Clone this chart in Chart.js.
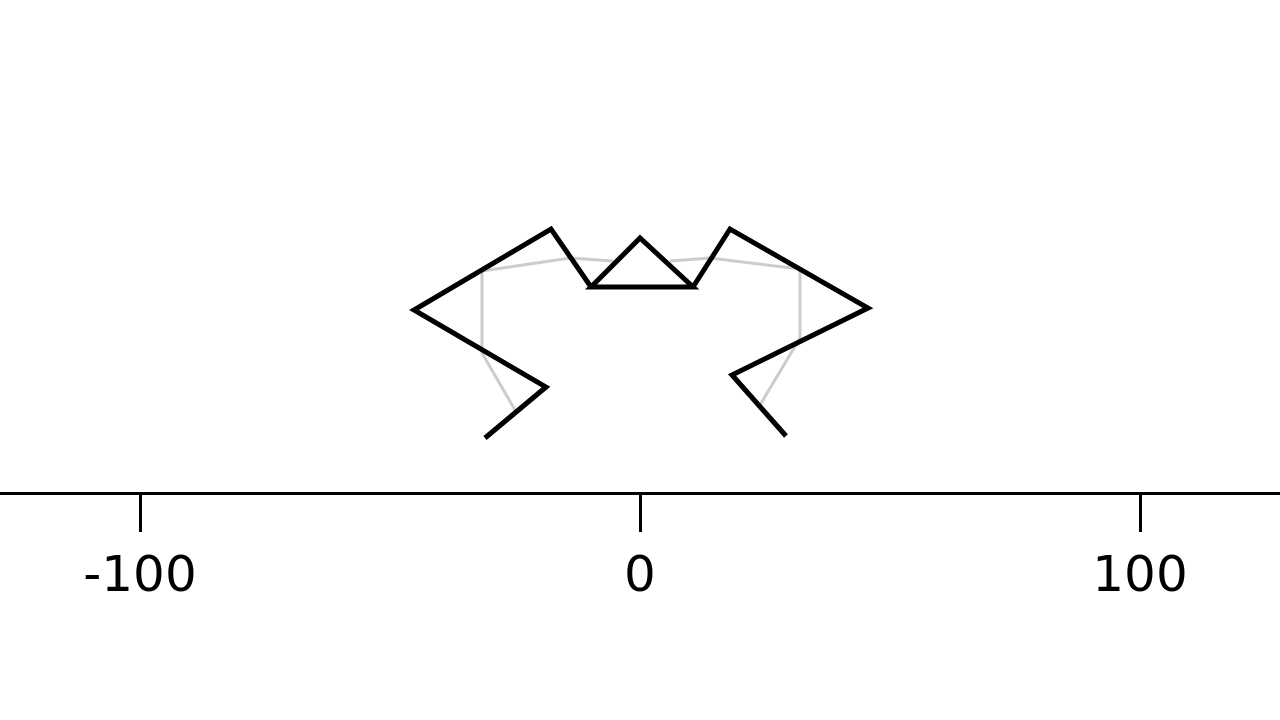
<!DOCTYPE html>
<html lang="en">
<head>
  <meta charset="UTF-8" />
  <title>Line figure</title>
  <script src="https://cdn.jsdelivr.net/npm/chart.js"></script>
  <style>
    html, body {
      margin: 0;
      padding: 0;
      background: white;
      overflow: hidden;
    }
    canvas {
      display: block;
    }
  </style>
</head>
<body>
<canvas id="figure" width="1280" height="720"></canvas>
<script>
  // black outline, traced in order
  const blackX = [-31, -18.8, -45.2, -17.8, -9.8, 10.6, 0, -9.8, 10.6, 18, 45.6, 18.4, 29.2];
  const blackY = [11, 21.2, 36.6, 52.8, 41.2, 41.2, 51, 41.2, 41.2, 52.8, 37, 23.6, 11.4];

  // grey outline, null = gap under the triangle
  const greyX = [-25, -31.6, -31.6, -14, -5.4, null, 6, 14, 32, 32, 24];
  const greyY = [16.6, 28, 44.4, 47, 46.4, null, 46.4, 47, 44.8, 31, 17.6];

  const tickValues = [-100, 0, 100];

  function toPoints(xs, ys) {
    return xs.map((x, i) => ({ x: x, y: ys[i] }));
  }

  const ctx = document.getElementById('figure').getContext('2d');

  new Chart(ctx, {
    type: 'scatter',
    data: {
      datasets: [
        {
          data: toPoints(blackX, blackY),
          showLine: true,
          borderColor: '#000',
          borderWidth: 5,
          borderJoinStyle: 'miter',
          pointRadius: 0,
          tension: 0,
          spanGaps: false
        },
        {
          data: toPoints(greyX, greyY),
          showLine: true,
          borderColor: '#cccccc',
          borderWidth: 3,
          borderJoinStyle: 'miter',
          pointRadius: 0,
          tension: 0,
          spanGaps: false
        }
      ]
    },
    options: {
      responsive: false,
      animation: false,
      layout: { padding: 0 },
      plugins: {
        legend: { display: false },
        tooltip: { enabled: false }
      },
      scales: {
        x: {
          type: 'linear',
          min: -128,
          max: 128,
          afterBuildTicks: function(scale) {
            scale.ticks = tickValues.map(v => ({ value: v }));
          },
          afterFit: function(scale) {
            scale.height = 227;
          },
          border: {
            display: true,
            color: '#000',
            width: 3
          },
          grid: {
            drawOnChartArea: false,
            drawTicks: true,
            tickLength: 39,
            tickWidth: 3,
            tickColor: '#000'
          },
          ticks: {
            color: '#000',
            padding: 16,
            maxRotation: 0,
            font: { family: 'DejaVu Sans', size: 50 }
          }
        },
        y: {
          display: false,
          min: 0,
          max: 98.6
        }
      }
    }
  });
</script>
</body>
</html>
